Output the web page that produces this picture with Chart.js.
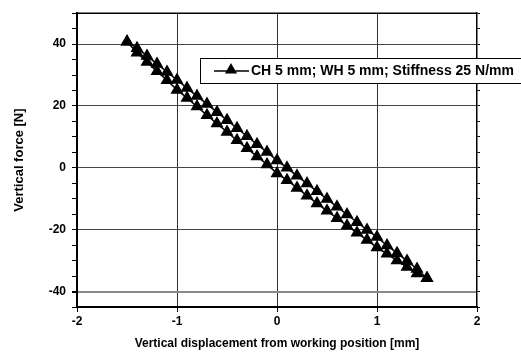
<!DOCTYPE html>
<html>
<head>
<meta charset="utf-8">
<script src="https://cdn.jsdelivr.net/npm/chart.js@4.4.0/dist/chart.umd.min.js"></script>
<style>
  html, body { margin: 0; padding: 0; background: #fff; }
  canvas { display: block; }
</style>
</head>
<body>
<canvas id="forceChart" width="521" height="353"></canvas>
<script>
// displacement steps (mm), same for both branches
const displacement = [-1.5, -1.4, -1.3, -1.2, -1.1, -1.0, -0.9, -0.8, -0.7, -0.6, -0.5, -0.4, -0.3, -0.2, -0.1, 0.0,
  0.1, 0.2, 0.3, 0.4, 0.5, 0.6, 0.7, 0.8, 0.9, 1.0, 1.1, 1.2, 1.3, 1.4, 1.5];
// upper branch of the loop (N)
const forceUpper = [40.8, 38.7, 36.2, 33.6, 31.0, 28.4, 25.8, 23.2, 20.6, 18.0, 15.4, 12.8, 10.2, 7.6, 5.1, 2.4,
  0.0, -2.6, -5.1, -7.6, -10.1, -12.6, -15.1, -17.6, -20.1, -22.4, -25.1, -27.6, -30.1, -32.7, -35.7];
// lower branch of the loop (N)
const forceLower = [40.8, 37.2, 34.2, 31.2, 28.3, 25.2, 22.6, 19.8, 17.0, 14.3, 11.6, 8.9, 6.3, 3.7, 1.1, -1.8,
  -4.0, -6.5, -9.0, -11.5, -13.9, -16.3, -18.7, -21.0, -23.3, -25.8, -27.8, -30.0, -32.1, -34.2, -35.7];

const xTicks = [-2, -1, 0, 1, 2];
const yLabels = [-40, -20, 0, 20, 40];
const seriesLabel = 'CH 5 mm; WH 5 mm; Stiffness 25 N/mm';

// go along the upper branch, then back along the lower one
const loop = [];
displacement.forEach((x, i) => loop.push({ x: x, y: forceUpper[i] }));
for (let i = displacement.length - 1; i >= 0; i--) {
    loop.push({ x: displacement[i], y: forceLower[i] });
}

Chart.defaults.font.family = "'Liberation Sans', Arial, sans-serif";
Chart.defaults.font.weight = 'bold';
Chart.defaults.color = '#000';

const isLabel = v => yLabels.some(l => Math.abs(l - v) < 1e-6);

// legend box sitting inside the plot, over the grid
const legendBox = {
    id: 'legendBox',
    afterDraw(chart) {
        const ctx = chart.ctx;
        const ds = chart.data.datasets[0];
        ctx.save();
        ctx.fillStyle = '#fff';
        ctx.fillRect(200, 58, 330, 25);
        ctx.strokeStyle = '#000';
        ctx.lineWidth = 1;
        ctx.strokeRect(200.5, 58.5, 330, 25);
        ctx.beginPath();
        ctx.moveTo(214, 71);
        ctx.lineTo(249, 71);
        ctx.lineWidth = 1.5;
        ctx.stroke();
        ctx.fillStyle = '#000';
        Chart.helpers.drawPoint(ctx, { pointStyle: 'triangle', radius: 5.5, borderWidth: 1 }, 231, 70);
        ctx.font = "bold 14px 'Liberation Sans', Arial, sans-serif";
        ctx.textBaseline = 'middle';
        ctx.fillText(ds.label, 251, 71);
        ctx.restore();
    }
};

// thin top edge of the frame
const topEdge = {
    id: 'topEdge',
    afterDraw(chart) {
        const a = chart.chartArea;
        const ctx = chart.ctx;
        ctx.save();
        ctx.strokeStyle = '#000';
        ctx.lineWidth = 1.5;
        ctx.beginPath();
        ctx.moveTo(a.left, a.top);
        ctx.lineTo(a.right, a.top);
        ctx.stroke();
        ctx.restore();
    }
};

new Chart(document.getElementById('forceChart'), {
    type: 'scatter',
    data: {
        datasets: [{
            label: seriesLabel,
            data: loop,
            showLine: true,
            borderColor: '#000',
            backgroundColor: '#000',
            borderWidth: 1.5,
            pointStyle: 'triangle',
            pointRadius: 6,
            pointBorderWidth: 1.5
        }]
    },
    options: {
        responsive: false,
        animation: false,
        devicePixelRatio: 1,
        layout: { padding: { top: 12, right: 40, left: 0, bottom: 0 } },
        plugins: {
            legend: { display: false },
            tooltip: { enabled: false }
        },
        scales: {
            x: {
                type: 'linear',
                min: -2,
                max: 2,
                afterBuildTicks: scale => { scale.ticks = xTicks.map(v => ({ value: v })); },
                ticks: { font: { size: 12, weight: 'bold' }, padding: 2 },
                grid: {
                    color: ctx => (ctx.tick && (ctx.tick.value === -2 || ctx.tick.value === 2)) ? 'rgba(0,0,0,0)' : '#333',
                    lineWidth: 1,
                    tickColor: '#000',
                    tickLength: 5
                },
                border: { color: '#000', width: 2 },
                title: {
                    display: true,
                    text: 'Vertical displacement from working position [mm]',
                    font: { size: 12, weight: 'bold' },
                    padding: { top: 4, bottom: 2 }
                },
                afterFit: scale => { scale.height = 46; }
            },
            y: {
                type: 'linear',
                min: -45,
                max: 50,
                ticks: {
                    stepSize: 5,
                    maxTicksLimit: 40,
                    autoSkip: false,
                    font: { size: 12, weight: 'bold' },
                    padding: 6,
                    callback: v => isLabel(v) ? String(Math.round(v)) : ''
                },
                grid: {
                    color: ctx => {
                        if (!ctx.tick || !isLabel(ctx.tick.value)) return 'rgba(0,0,0,0)';
                        return Math.round(ctx.tick.value) === -40 ? '#888' : '#444';
                    },
                    lineWidth: ctx => (ctx.tick && Math.round(ctx.tick.value) === -40) ? 2 : 1,
                    tickColor: '#000',
                    tickLength: 5
                },
                border: { color: '#000', width: 2 },
                title: {
                    display: true,
                    text: 'Vertical force [N]',
                    font: { size: 13, weight: 'bold' },
                    padding: { top: 12, bottom: 0 }
                },
                afterFit: scale => { scale.width = 77; }
            },
            y2: {
                type: 'linear',
                position: 'right',
                min: -45,
                max: 50,
                ticks: { stepSize: 5, maxTicksLimit: 40, display: false },
                grid: { drawOnChartArea: false, tickColor: '#000', tickLength: 3 },
                border: { color: '#000', width: 1.5 },
                afterFit: scale => { scale.width = 4; }
            }
        }
    },
    plugins: [legendBox, topEdge]
});
</script>
</body>
</html>
